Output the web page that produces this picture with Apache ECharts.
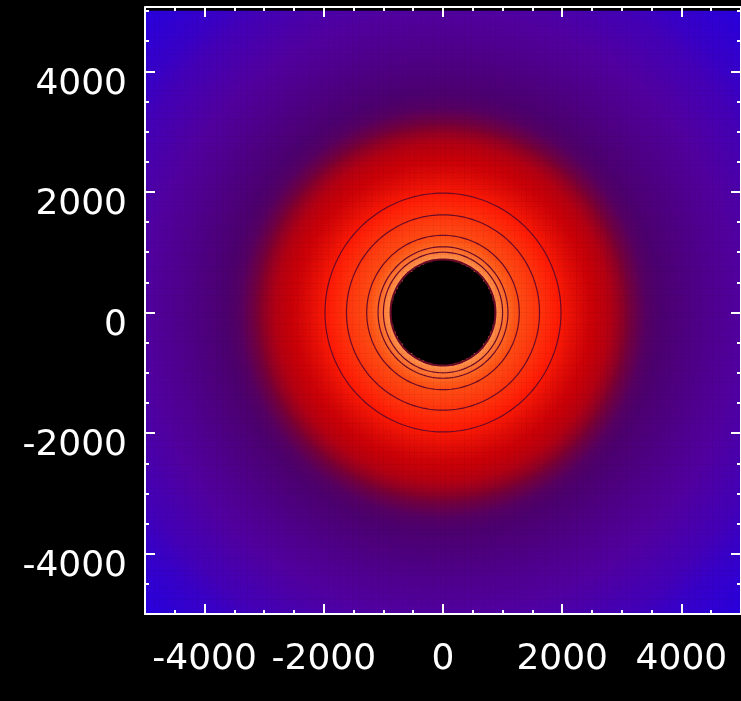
<!DOCTYPE html>
<html>
<head>
<meta charset="utf-8">
<script src="https://cdn.jsdelivr.net/npm/echarts@6/dist/echarts.min.js"></script>
<style>
  html, body { margin: 0; padding: 0; background: #000; }
  #chart { width: 741px; height: 701px; }
</style>
</head>
<body>
<div id="chart"></div>
<script>
// Axis extent and tick marks (same units on both axes)
const axisMin = -5000;
const axisMax = 5000;
const majorTicks = [-4000, -2000, 0, 2000, 4000];
const minorStep = 500;

// Field sampling: number of cells per side
const cellCount = 250;

// Radial profile of the field: radius -> normalised level
const profileRadius = [880, 1000, 1090, 1280, 1620, 1980, 2200, 2450, 2800, 3000, 3150, 3400, 3800, 4300, 5000, 5600, 6200, 7100];
const profileLevel  = [0.97, 0.93, 0.90, 0.85, 0.80, 0.74, 0.69, 0.64, 0.59, 0.53, 0.47, 0.40, 0.36, 0.31, 0.25, 0.16, 0.08, 0.00];

// Masked central region (no data)
const holeRadius = 880;

// Contour levels drawn over the field
const contourLevels = [0.97, 0.93, 0.90, 0.85, 0.80, 0.74];

// Colour table, low -> high
const colorTable = ['#2800e0', '#4400b8', '#5200a0', '#4c0070', '#800030', '#c80008', '#ff1c06', '#ff5818', '#ffa860'];

function levelAt(r) {
  if (r <= profileRadius[0]) return profileLevel[0];
  for (let k = 1; k < profileRadius.length; k++) {
    if (r <= profileRadius[k]) {
      const t = (r - profileRadius[k - 1]) / (profileRadius[k] - profileRadius[k - 1]);
      return profileLevel[k - 1] + t * (profileLevel[k] - profileLevel[k - 1]);
    }
  }
  return profileLevel[profileLevel.length - 1];
}

function radiusAt(level) {
  for (let k = 1; k < profileLevel.length; k++) {
    if (level >= profileLevel[k]) {
      const t = (profileLevel[k - 1] - level) / (profileLevel[k - 1] - profileLevel[k]);
      return profileRadius[k - 1] + t * (profileRadius[k] - profileRadius[k - 1]);
    }
  }
  return profileRadius[profileRadius.length - 1];
}

const cellSize = (axisMax - axisMin) / cellCount;
const categories = [];
for (let i = 0; i < cellCount; i++) categories.push(i);

const fieldData = [];
for (let i = 0; i < cellCount; i++) {
  const x = axisMin + (i + 0.5) * cellSize;
  for (let j = 0; j < cellCount; j++) {
    const y = axisMin + (j + 0.5) * cellSize;
    const r = Math.sqrt(x * x + y * y);
    if (r < holeRadius) continue;
    fieldData.push([i, j, levelAt(r)]);
  }
}

const contourSeries = contourLevels.map(function (lv, idx) {
  const r = radiusAt(lv);
  const pts = [];
  for (let a = 0; a <= 360; a += 2) {
    const t = a * Math.PI / 180;
    pts.push([r * Math.cos(t), r * Math.sin(t)]);
  }
  return {
    type: 'line',
    xAxisIndex: 1,
    yAxisIndex: 1,
    data: pts,
    showSymbol: false,
    silent: true,
    smooth: false,
    z: 3,
    lineStyle: { color: '#6a0a26', width: idx === 0 ? 2 : 1.2 }
  };
});

const gridBox = { left: 145, top: 11, width: 601, height: 603 };
const white = '#ffffff';
const fontSpec = { color: white, fontSize: 36, fontFamily: 'DejaVu Sans' };

function majorAxis(gridIndex, position, extra) {
  return Object.assign({
    type: 'value',
    gridIndex: gridIndex,
    position: position,
    min: axisMin,
    max: axisMax,
    z: 10,
    splitLine: { show: false },
    axisLine: { show: true, onZero: false, lineStyle: { color: white, width: 2 } },
    axisTick: { show: true, inside: true, length: 10, customValues: majorTicks, lineStyle: { color: white, width: 2 } },
    axisLabel: { show: false }
  }, extra || {});
}

function minorAxis(gridIndex, position, extra) {
  return Object.assign({
    type: 'value',
    gridIndex: gridIndex,
    position: position,
    min: axisMin,
    max: axisMax,
    interval: minorStep,
    z: 10,
    splitLine: { show: false },
    axisLine: { show: false, onZero: false },
    axisTick: { show: true, inside: true, length: 4, lineStyle: { color: white, width: 2 } },
    axisLabel: { show: false }
  }, extra || {});
}

const chart = echarts.init(document.getElementById('chart'), null, { renderer: 'canvas' });

chart.setOption({
  backgroundColor: '#000000',
  animation: false,
  grid: [
    Object.assign({}, gridBox),
    Object.assign({}, gridBox),
    Object.assign({}, gridBox)
  ],
  xAxis: [
    { type: 'category', gridIndex: 0, data: categories, show: false },
    majorAxis(1, 'bottom', {
      axisLabel: Object.assign({
        show: true, customValues: majorTicks, margin: 28,
        formatter: function (v) { return String(v); }
      }, fontSpec)
    }),
    majorAxis(1, 'top', { offset: 4 }),
    minorAxis(2, 'bottom'),
    minorAxis(2, 'top', { offset: 4 })
  ],
  yAxis: [
    { type: 'category', gridIndex: 0, data: categories, show: false },
    majorAxis(1, 'left', {
      axisLabel: {
        show: true, customValues: majorTicks, margin: 18,
        formatter: function (v) { return '{v|' + v + '}'; },
        rich: { v: Object.assign({ padding: [26, 0, 0, 0] }, fontSpec) }
      }
    }),
    majorAxis(1, 'right'),
    minorAxis(2, 'left'),
    minorAxis(2, 'right')
  ],
  visualMap: {
    show: false,
    type: 'continuous',
    seriesIndex: 0,
    min: 0,
    max: 1,
    inRange: { color: colorTable }
  },
  series: [
    {
      type: 'heatmap',
      xAxisIndex: 0,
      yAxisIndex: 0,
      data: fieldData,
      progressive: 0,
      silent: true,
      emphasis: { disabled: true }
    }
  ].concat(contourSeries)
});
</script>
</body>
</html>
